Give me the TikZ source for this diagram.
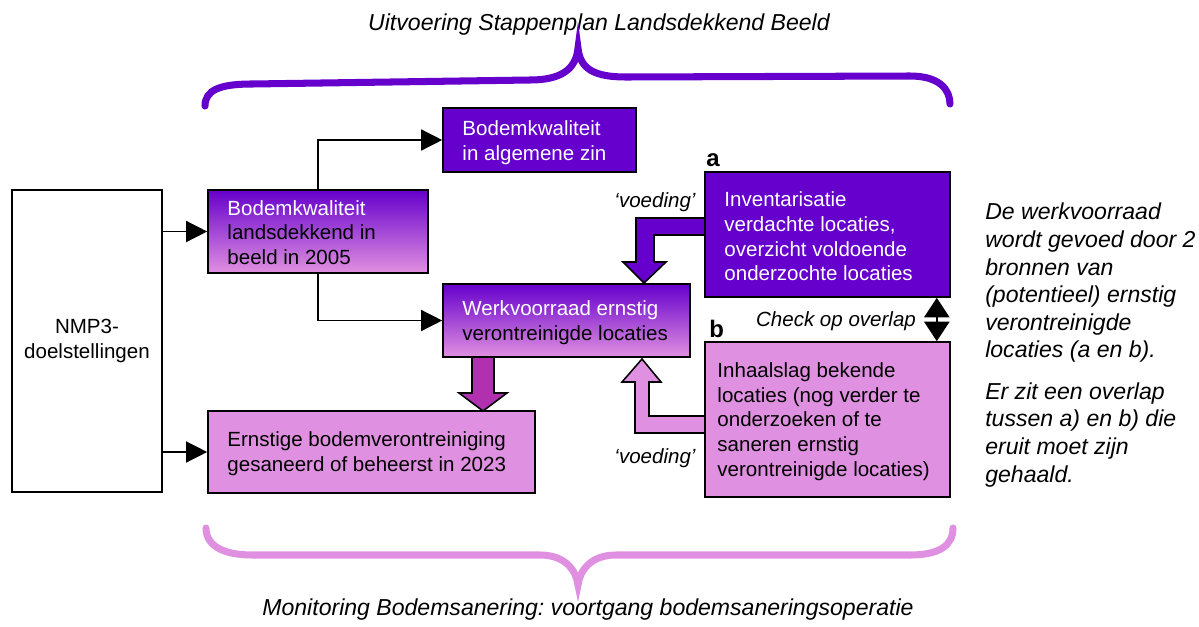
\documentclass[tikz,border=0pt]{standalone}
\usepackage{fontspec}
\setmainfont{Liberation Sans}
\frenchspacing
\usetikzlibrary{arrows.meta,calc}
\definecolor{vpurple}{HTML}{6600CC}
\definecolor{vpink}{HTML}{E090E0}
\definecolor{vmag}{HTML}{B030B0}
\begin{document}
\begin{tikzpicture}[x=0.025cm,y=-0.025cm,
  box/.style={draw=black, line width=1.1pt, inner sep=0pt},
  darkbox/.style={box, fill=vpurple},
  lightbox/.style={box, fill=vpink},
  gradbox/.style={box, top color=vpurple, bottom color=vpink},
  plainbox/.style={box, fill=white},
  txt/.style={inner sep=0pt, align=left, font=\fontsize{14.6}{17.6}\selectfont},
  lbl/.style={inner sep=0pt, font=\fontsize{14.6}{17.6}\selectfont\itshape},
  ttl/.style={inner sep=0pt, font=\fontsize{16.4}{19.6}\selectfont\itshape},
  conn/.style={line width=1pt, -{Triangle[length=15pt,width=15pt]}},
  blockarrow/.style={draw=black, line width=1.1pt, line join=miter},
  brace/.style={line width=5pt, line cap=round}
]
\useasboundingbox (0,0) rectangle (1199,626);

% titles
\node[ttl] (ttop) at (599,25) {Uitvoering Stappenplan Landsdekkend Beeld};
\node[ttl] (tbot) at (588,610) {Monitoring Bodemsanering: voortgang bodemsaneringsoperatie};

% braces
\draw[brace, vpurple] (205,106) .. controls (205,90) and (220,84) .. (252,84)
  -- (530,80) .. controls (560,80) and (576,70) .. (578,48)
  .. controls (580,70) and (596,77) .. (626,77)
  -- (910,76) .. controls (940,76) and (950,90) .. (950,104);
\draw[brace, vpink] (206,528) .. controls (206,545) and (222,555) .. (252,555)
  -- (540,555) .. controls (565,555) and (576,570) .. (578,585)
  .. controls (580,570) and (591,555) .. (616,555)
  -- (910,555) .. controls (940,555) and (953,545) .. (953,528);

% block arrows
\draw[blockarrow, fill=vpurple] (705,218) -- (636,218) -- (636,262) -- (623,262) -- (644,283)
  -- (666,262) -- (654,262) -- (654,235) -- (705,235);
\draw[blockarrow, fill=vpink] (705,416) -- (649,416) -- (649,382) -- (661,382) -- (642,359)
  -- (622,382) -- (635,382) -- (635,433) -- (705,433);
\draw[blockarrow, fill=vmag] (472,357) -- (472,393) -- (459,393) -- (483,411) -- (507,393)
  -- (494,393) -- (494,357);

% boxes
\node[plainbox, minimum width=3.75cm, minimum height=7.55cm] (nmp) at (87,341) {};
\node[gradbox, minimum width=5.5cm, minimum height=2.075cm] (b1) at (318,231.5) {};
\node[darkbox, minimum width=4.825cm, minimum height=1.6cm] (b2) at (539.5,140) {};
\node[gradbox, minimum width=6.175cm, minimum height=1.825cm] (b3) at (566.5,320.5) {};
\node[lightbox, minimum width=8.175cm, minimum height=2.05cm] (b4) at (371.5,452) {};
\node[darkbox, minimum width=6.125cm, minimum height=3.125cm] (ba) at (827.5,234.5) {};
\node[lightbox, minimum width=6.125cm, minimum height=3.875cm] (bb) at (827.5,419.5) {};

% box texts
\node[txt, align=center] (tnmp) at (nmp.center) {NMP3-\\doelstellingen};
\node[txt, anchor=west] (t1) at ($(b1.west)+(20,1)$) {\textcolor{white}{Bodemkwaliteit}\\landsdekkend in\\beeld in 2005};
\node[txt, anchor=west, text=white] (t2) at ($(b2.west)+(20,3)$) {Bodemkwaliteit\\in algemene zin};
\node[txt, anchor=west] (t3) at ($(b3.west)+(20,2)$) {\textcolor{white}{Werkvoorraad ernstig}\\verontreinigde locaties};
\node[txt, anchor=west] (t4) at ($(b4.west)+(20,2)$) {Ernstige bodemverontreiniging\\gesaneerd of beheerst in 2023};
\node[txt, anchor=west, text=white] (ta) at ($(ba.west)+(20,2)$) {Inventarisatie\\verdachte locaties,\\overzicht voldoende\\onderzochte locaties};
\node[txt, anchor=west] (tb) at ($(bb.west)+(13,2)$) {Inhaalslag bekende\\locaties (nog verder te\\onderzoeken of te\\saneren ernstig\\verontreinigde locaties)};

% labels
\node[inner sep=0pt, font=\fontsize{17}{20}\selectfont\bfseries, anchor=base west] (la) at (706,166) {a};
\node[inner sep=0pt, font=\fontsize{17}{20}\selectfont\bfseries, anchor=base west] (lb) at (709,337) {b};
\node[lbl] (v1) at (655,202) {‘voeding’};
\node[lbl] (v2) at (655,458) {‘voeding’};
\node[lbl] (chk) at (836,321) {Check op overlap};

% connectors
\draw[conn] (nmp.east |- b1.west) -- (b1.west);
\draw[conn] (nmp.east |- b4.west) -- (b4.west);
\draw[conn] (b1.north) |- (b2.west);
\draw[conn] (b1.south) |- (b3.west);
\draw[line width=1.5pt, {Triangle[length=14pt,width=18pt]}-{Triangle[length=14pt,width=18pt]}]
  ($(ba.south east)+(-14,0)$) -- ($(bb.north east)+(-14,0)$);

% right text
\node[inner sep=0pt, align=left, anchor=north west, font=\fontsize{16.4}{19.6}\selectfont\itshape] (rt) at (985,203)
  {De werkvoorraad\\wordt gevoed door 2\\bronnen van\\(potentieel) ernstig\\verontreinigde\\locaties (a en b).\\[10pt]Er zit een overlap\\tussen a) en b) die\\eruit moet zijn\\gehaald.};
\end{tikzpicture}
\end{document}
